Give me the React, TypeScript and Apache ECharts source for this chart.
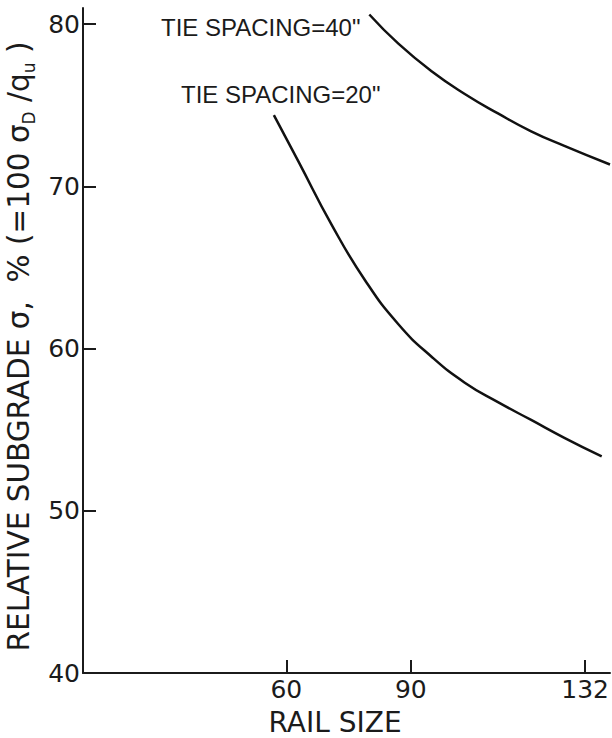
import { useEffect, useRef } from "react";
import * as echarts from "echarts";

// Rail size (lb/yd) against relative subgrade stress, one curve per tie spacing
const railSize20 = [57, 63, 71, 79, 87, 95, 103, 111, 119, 127, 136];
const subgrade20 = [74.4, 71.5, 67.6, 64.2, 61.5, 59.5, 57.9, 56.7, 55.6, 54.5, 53.35];
const railSize40 = [80, 87, 95, 103, 111, 119, 127, 138];
const subgrade40 = [80.6, 78.8, 77.1, 75.7, 74.5, 73.4, 72.5, 71.35];

const railTicks = [60, 90, 132];
const stressTicks = [40, 50, 60, 70, 80];
const curveLabels = ['TIE SPACING=20"', 'TIE SPACING=40"'];

const INK = "#1b1b1b";
const FONT = '"DejaVu Sans", sans-serif';
const NOTE_FONT = '"Liberation Sans", Arial, sans-serif';

export default function App() {
  const ref = useRef<HTMLDivElement>(null);

  useEffect(() => {
    if (!ref.current) return;
    const chart = echarts.init(ref.current, undefined, { renderer: "svg" });

    const pairs = (xs: number[], ys: number[]) => xs.map((x, i) => [x, ys[i]]);

    chart.setOption({
      animation: false,
      backgroundColor: "#ffffff",
      grid: {
        left: 83,
        right: 2,
        top: 8,
        bottom: 65,
        containLabel: false,
        outerBoundsMode: "none",
      },
      xAxis: {
        type: "value",
        min: 11,
        max: 138,
        name: "RAIL SIZE",
        nameLocation: "middle",
        nameGap: 35,
        nameTextStyle: {
          fontFamily: FONT,
          fontSize: 28,
          color: INK,
          padding: [0, 23, 0, 0],
        },
        axisLine: { show: true, onZero: false, lineStyle: { color: INK, width: 2 } },
        axisTick: {
          show: true,
          inside: true,
          length: 13,
          customValues: railTicks,
          lineStyle: { color: INK, width: 2 },
        },
        axisLabel: {
          show: true,
          customValues: railTicks,
          fontFamily: FONT,
          fontSize: 25,
          color: INK,
          margin: 4,
        },
        splitLine: { show: false },
      },
      yAxis: {
        type: "value",
        min: 40,
        max: 81,
        name: "{m|RELATIVE SUBGRADE σ,  % (=100 σ}{s|D}{m| /q}{s|u}{m| )}",
        nameLocation: "middle",
        nameRotate: 90,
        nameGap: 32,
        nameTextStyle: {
          fontFamily: FONT,
          fontSize: 30,
          color: INK,
          padding: [0, 12, 0, 0],
          rich: {
            m: { fontFamily: FONT, fontSize: 29.5, lineHeight: 36, color: INK },
            s: {
              fontFamily: FONT,
              fontSize: 17,
              lineHeight: 14,
              verticalAlign: "bottom",
              color: INK,
            },
          },
        },
        axisLine: { show: true, onZero: false, lineStyle: { color: INK, width: 2 } },
        axisTick: {
          show: true,
          inside: true,
          length: 13,
          customValues: stressTicks,
          lineStyle: { color: INK, width: 2 },
        },
        axisLabel: {
          show: true,
          customValues: stressTicks,
          fontFamily: FONT,
          fontSize: 25,
          color: INK,
          margin: 3,
        },
        splitLine: { show: false },
      },
      series: [
        {
          name: curveLabels[0],
          type: "line",
          smooth: 0.5,
          showSymbol: false,
          data: pairs(railSize20, subgrade20),
          lineStyle: { color: "#111", width: 2.5 },
        },
        {
          name: curveLabels[1],
          type: "line",
          smooth: 0.5,
          showSymbol: false,
          data: pairs(railSize40, subgrade40),
          lineStyle: { color: "#111", width: 2.5 },
        },
      ],
      graphic: [
        {
          type: "text",
          x: 161,
          y: 27,
          style: {
            text: curveLabels[1],
            fontFamily: NOTE_FONT,
            fontSize: 24,
            fill: INK,
            verticalAlign: "middle",
          },
        },
        {
          type: "text",
          x: 181,
          y: 94,
          style: {
            text: curveLabels[0],
            fontFamily: NOTE_FONT,
            fontSize: 24,
            fill: INK,
            verticalAlign: "middle",
          },
        },
      ],
    });

    return () => chart.dispose();
  }, []);

  return (
    <div
      ref={ref}
      style={{
        position: "absolute",
        left: 0,
        top: 0,
        width: 612,
        height: 738,
        background: "#fff",
      }}
    />
  );
}
